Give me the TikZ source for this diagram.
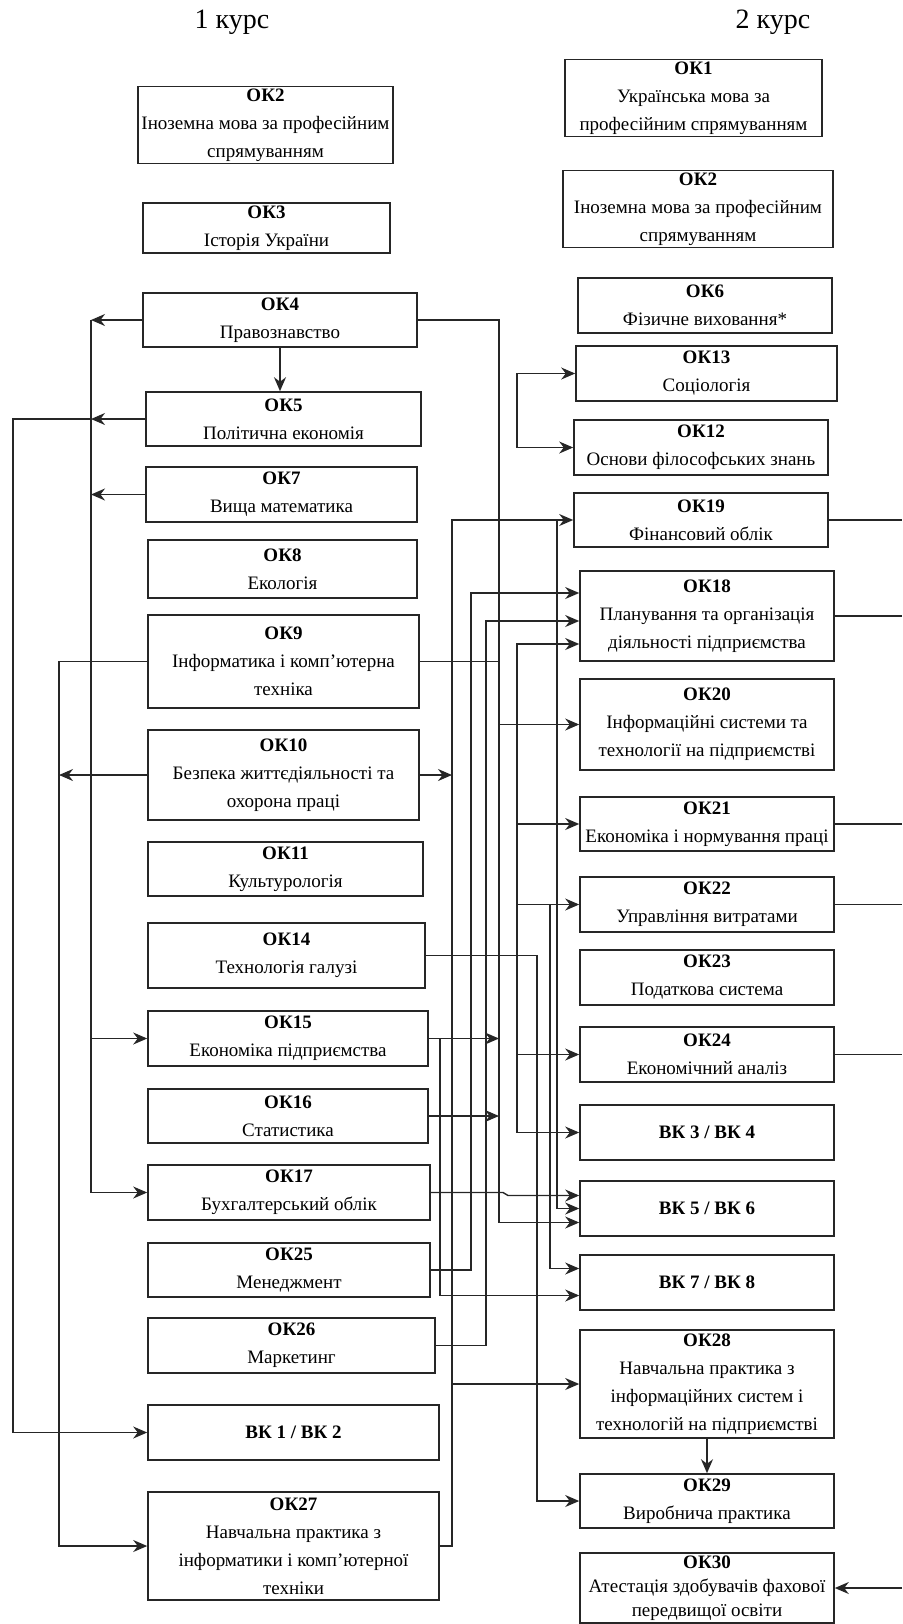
\documentclass[tikz,border=0pt]{standalone}
\usepackage{fontspec}
\setmainfont{Liberation Serif}
\usetikzlibrary{arrows.meta}

\begin{document}
\begin{tikzpicture}[x=0.5pt,y=-0.5pt,
    box/.style={draw=black!85,line width=0.8pt,align=center,inner sep=1pt,
      font=\fontsize{9.5}{14}\selectfont},
    sz/.style 2 args={minimum width=#1*0.5pt,minimum height=#2*0.5pt},
    wire/.style={draw=black!85,line width=0.7pt},
    arr/.style={wire,-{Stealth[length=7pt,width=6pt]}},
    arrs/.style={wire,{Stealth[length=7pt,width=6pt]}-{Stealth[length=7pt,width=6pt]}},
    kurs/.style={font=\fontsize{14}{16}\selectfont}]
  \useasboundingbox (0,0) rectangle (902,1624);
  \node[kurs] (k1) at (232,22) {1 курс};
  \node[kurs] (k2) at (773,22) {2 курс};

  \node[box,sz={255}{74}] (ok2l) at (265.5,125) {\textbf{ОК2}\\Іноземна мова за професійним\\спрямуванням};
  \node[box,sz={247}{50}] (ok3) at (266.5,228) {\textbf{ОК3}\\Історія України};
  \node[box,sz={274}{54}] (ok4) at (280,320) {\textbf{ОК4}\\Правознавство};
  \node[box,sz={275}{54}] (ok5) at (283.5,419) {\textbf{ОК5}\\Політична економія};
  \node[box,sz={271}{55}] (ok7) at (281.5,494.5) {\textbf{ОК7}\\Вища математика};
  \node[box,sz={269}{58}] (ok8) at (282.5,569) {\textbf{ОК8}\\Екологія};
  \node[box,sz={271}{93}] (ok9) at (283.5,661.5) {\textbf{ОК9}\\Інформатика і комп'ютерна\\техніка};
  \node[box,sz={271}{90}] (ok10) at (283.5,775) {\textbf{ОК10}\\Безпека життєдіяльності та\\охорона праці};
  \node[box,sz={275}{54}] (ok11) at (285.5,869) {\textbf{ОК11}\\Культурологія};
  \node[box,sz={277}{65}] (ok14) at (286.5,955.5) {\textbf{ОК14}\\Технологія галузі};
  \node[box,sz={280}{55}] (ok15) at (288,1038.5) {\textbf{ОК15}\\Економіка підприємства};
  \node[box,sz={280}{54}] (ok16) at (288,1116) {\textbf{ОК16}\\Статистика};
  \node[box,sz={282}{55}] (ok17) at (289,1192.5) {\textbf{ОК17}\\Бухгалтерський облік};
  \node[box,sz={282}{54}] (ok25) at (289,1270) {\textbf{ОК25}\\Менеджмент};
  \node[box,sz={287}{55}] (ok26) at (291.5,1345.5) {\textbf{ОК26}\\Маркетинг};
  \node[box,sz={291}{55}] (vk12) at (293.5,1432.5) {\textbf{ВК 1 / ВК 2}};
  \node[box,sz={291}{108}] (ok27) at (293.5,1546) {\textbf{ОК27}\\Навчальна практика з\\інформатики і комп'ютерної\\техніки};

  \node[box,sz={257}{60}] (ok1) at (693.5,98) {\textbf{ОК1}\\Українська мова за\\професійним спрямуванням};
  \node[box,sz={270}{74}] (ok2r) at (698,209) {\textbf{ОК2}\\Іноземна мова за професійним\\спрямуванням};
  \node[box,sz={254}{55}] (ok6) at (705,305.5) {\textbf{ОК6}\\Фізичне виховання*};
  \node[box,sz={261}{55}] (ok13) at (706.5,373.5) {\textbf{ОК13}\\Соціологія};
  \node[box,sz={254}{55}] (ok12) at (701,447.5) {\textbf{ОК12}\\Основи філософських знань};
  \node[box,sz={254}{54}] (ok19) at (701,520) {\textbf{ОК19}\\Фінансовий облік};
  \node[box,sz={254}{90}] (ok18) at (707,616) {\textbf{ОК18}\\Планування та організація\\діяльності підприємства};
  \node[box,sz={254}{91}] (ok20) at (707,724.5) {\textbf{ОК20}\\Інформаційні системи та\\технології на підприємстві};
  \node[box,sz={254}{54}] (ok21) at (707,824) {\textbf{ОК21}\\Економіка і нормування праці};
  \node[box,sz={254}{55}] (ok22) at (707,904.5) {\textbf{ОК22}\\Управління витратами};
  \node[box,sz={254}{55}] (ok23) at (707,977.5) {\textbf{ОК23}\\Податкова система};
  \node[box,sz={254}{55}] (ok24) at (707,1054.5) {\textbf{ОК24}\\Економічний аналіз};
  \node[box,sz={254}{55}] (vk34) at (707,1132.5) {\textbf{ВК 3 / ВК 4}};
  \node[box,sz={254}{55}] (vk56) at (707,1208.5) {\textbf{ВК 5 / ВК 6}};
  \node[box,sz={254}{55}] (vk78) at (707,1282.5) {\textbf{ВК 7 / ВК 8}};
  \node[box,sz={254}{108}] (ok28) at (707,1384) {\textbf{ОК28}\\Навчальна практика з\\інформаційних систем і\\технологій на підприємстві};
  \node[box,sz={254}{54}] (ok29) at (707,1501) {\textbf{ОК29}\\Виробнича практика};
  \node[box,sz={254}{70},font=\fontsize{9.5}{12}\selectfont] (ok30) at (707,1588) {\textbf{ОК30}\\Атестація здобувачів фахової\\передвищої освіти};

  \coordinate (bl0) at (13,0);
  \coordinate (bl2) at (59,0);
  \coordinate (bl1) at (91,0);
  \coordinate (bm0) at (440,0);
  \coordinate (bm1) at (452,0);
  \coordinate (bm2) at (471,0);
  \coordinate (bm3) at (486,0);
  \coordinate (bm4) at (499,0);
  \coordinate (bm5) at (517,0);
  \coordinate (bm8) at (537,0);
  \coordinate (bm7) at (550,0);
  \coordinate (bm6) at (557,0);
  \coordinate (redge) at (902,0);
  \coordinate (in18a) at ([yshift=11.5pt]ok18.west);
  \coordinate (in18b) at ([yshift=-2.5pt]ok18.west);
  \coordinate (in18c) at ([yshift=-14pt]ok18.west);
  \coordinate (in56a) at ([yshift=6.5pt]vk56.west);
  \coordinate (in56c) at ([yshift=-7pt]vk56.west);
  \coordinate (in78a) at ([yshift=7pt]vk78.west);
  \coordinate (in78b) at ([yshift=-6.5pt]vk78.west);

  \draw[arr] (ok4.south) -- (ok4.south |- ok5.north);
  \draw[arr] (ok4.west) -- (ok4.west -| bl1);
  \draw[arr] (ok5.west) -- (ok5.west -| bl1);
  \draw[arr] (ok7.west) -- (ok7.west -| bl1);
  \draw[wire] (ok4.west -| bl1) -- (ok17.west -| bl1);
  \draw[arr] (ok15.west -| bl1) -- (ok15.west);
  \draw[arr] (ok17.west -| bl1) -- (ok17.west);
  \draw[arr] (ok5.west -| bl1) -| (bl0 |- vk12.west) -- (vk12.west);
  \draw[arr] (ok9.west) -| (bl2 |- ok27.west) -- (ok27.west);
  \draw[arr] (ok10.west) -- (ok10.west -| bl2);

  \draw[arr] (ok10.east) -- (ok10.east -| bm1);
  \draw[arr] (ok27.east) -| (bm1 |- ok19.west) -- (ok19.west);
  \draw[arr] (ok28.west -| bm1) -- (ok28.west);
  \draw[arr] (ok19.west -| bm6) |- (vk56.west);
  \draw[arr] (ok17.east) -- (503,1192.5) -- (508,1195.5) -- (in56a);
  \draw[arr] (ok25.east) -| (bm2 |- in18a) -- (in18a);
  \draw[arr] (ok26.east) -| (bm3 |- in18b) -- (in18b);
  \draw[arrs] (in18c) -| (bm5 |- vk34.west) -- (vk34.west);
  \draw[arr] (ok21.west -| bm5) -- (ok21.west);
  \draw[arr] (ok22.west -| bm5) -- (ok22.west);
  \draw[arr] (ok24.west -| bm5) -- (ok24.west);
  \draw[arr] (ok22.west -| bm7) -- (bm7 |- in78a) -- (in78a);
  \draw[arr] (ok4.east) -| (bm4 |- in56c) -- (in56c);
  \draw[wire] (ok9.east) -- (ok9.east -| bm4);
  \draw[arr] (ok20.west -| bm4) -- (ok20.west);
  \draw[arr] (ok15.east) -- (ok15.east -| bm4);
  \draw[arr] (ok16.east) -- (ok16.east -| bm4);
  \draw[arr] (ok15.east -| bm0) |- (in78b);
  \draw[arr] (ok14.east) -| (bm8 |- ok29.west) -- (ok29.west);
  \draw[arr] (ok28.south) -- (ok28.south |- ok29.north);
  \draw[arrs] (ok13.west) -| (bm5 |- ok12.west) -- (ok12.west);

  \draw[wire] (ok19.east) -- (ok19.east -| redge);
  \draw[wire] (ok18.east) -- (ok18.east -| redge);
  \draw[wire] (ok21.east) -- (ok21.east -| redge);
  \draw[wire] (ok22.east) -- (ok22.east -| redge);
  \draw[wire] (ok24.east) -- (ok24.east -| redge);
  \draw[arr] (ok30.east -| redge) -- (ok30.east);
\end{tikzpicture}
\end{document}
